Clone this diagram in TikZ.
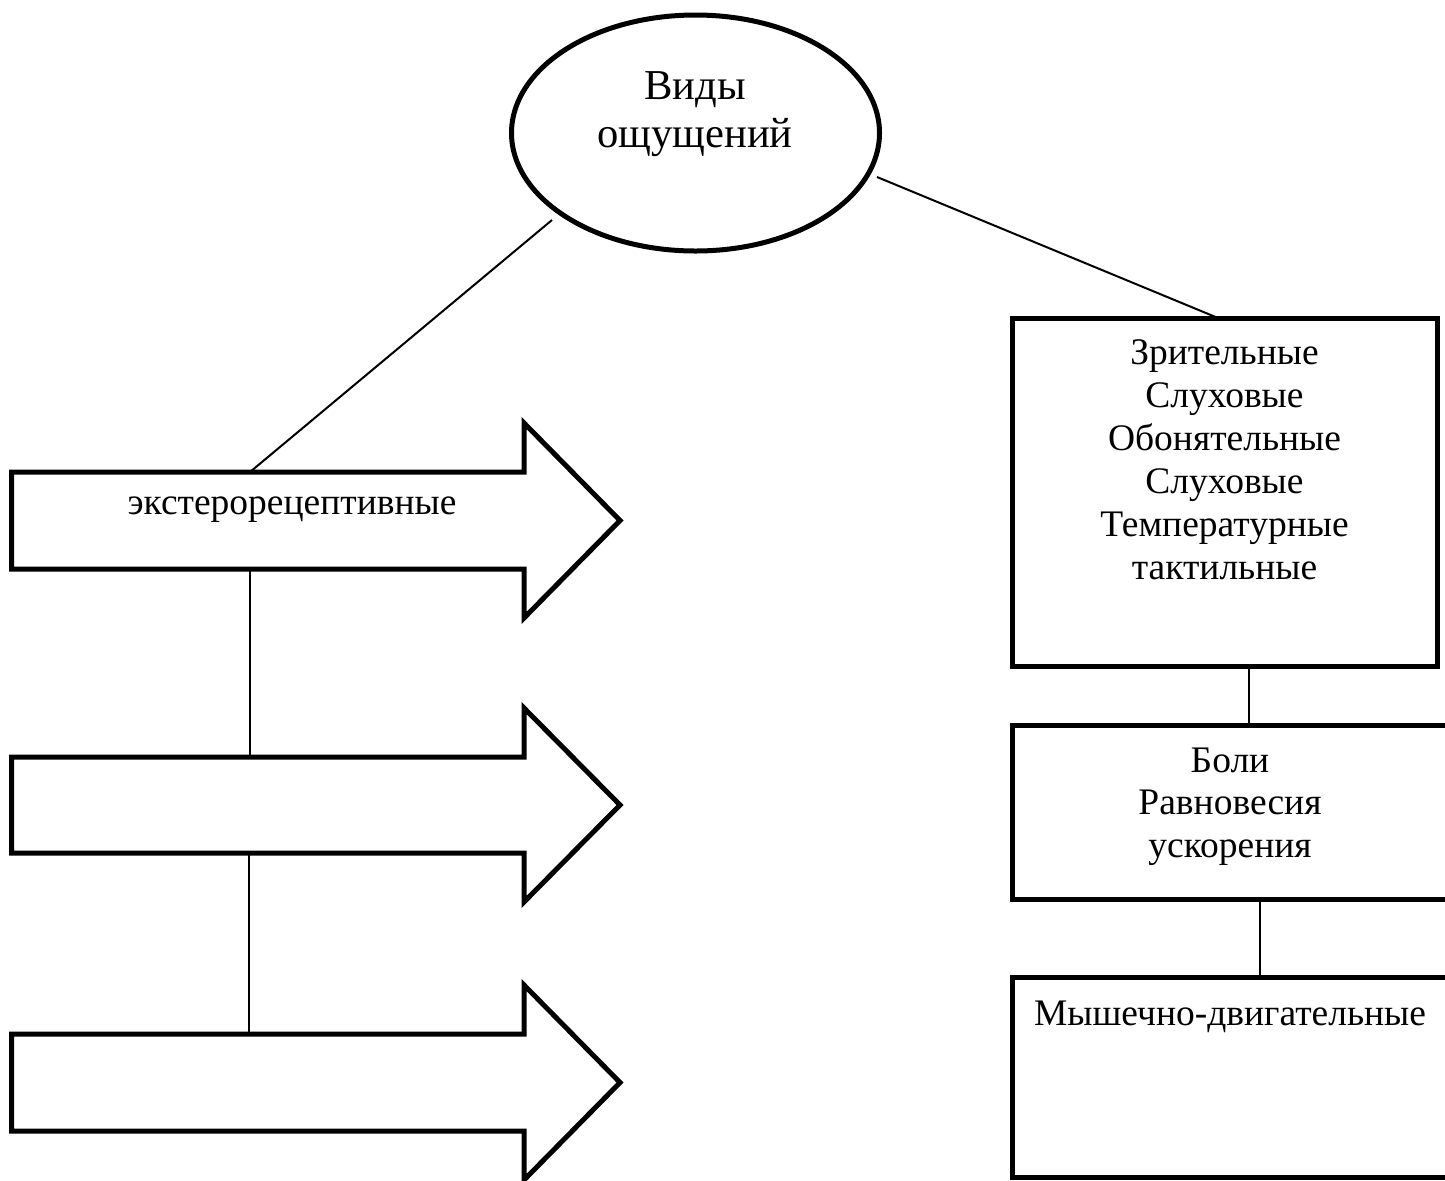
\documentclass[tikz,border=0pt]{standalone}
\usepackage{fontspec}
\setmainfont{Liberation Serif}
\usetikzlibrary{shapes.geometric}
\begin{document}
\begin{tikzpicture}[x=0.5pt,y=-0.5pt,
  thick border/.style={line width=2.5pt,line join=miter},
  thin link/.style={line width=1pt},
  lbl/.style={inner sep=0pt,anchor=base,align=center,font=\fontsize{18.75pt}{21.5pt}\selectfont},
  ovalbox/.style={ellipse,draw,line width=2.5pt,minimum width=184pt,minimum height=118pt,inner sep=0pt}]
\useasboundingbox (0,0) rectangle (1445,1180);
\clip (0,0) rectangle (1445,1180);
\fill[white] (0,0) rectangle (1445,1180);

% central ellipse
\node[ovalbox] (E) at (695.5,133) {};
\node[lbl,font=\fontsize{21.3pt}{24pt}\selectfont] (Et) at (695,147) {Виды\\ощущений};

% left arrows
\draw[thick border] (11.5,472) -- (524,472) -- (524,423) -- (620,520.5) -- (524,618) -- (524,569) -- (11.5,569) -- cycle;
\draw[thick border] (11.5,757) -- (524,757) -- (524,708) -- (620,805) -- (524,902) -- (524,853) -- (11.5,853) -- cycle;
\draw[thick border] (11.5,1034) -- (524,1034) -- (524,985) -- (620,1082.5) -- (524,1180) -- (524,1131) -- (11.5,1131) -- cycle;
\node[lbl] (A1t) at (292,514) {экстерорецептивные};

% right boxes
\draw[thick border] (1012,318) rectangle (1437,666);
\draw[thick border] (1012,725) rectangle (1452,899);
\draw[thick border] (1012,977) rectangle (1452,1177);
\node[lbl] (B1t) at (1224.5,579.5) {Зрительные\\Слуховые\\Обонятельные\\Слуховые\\Температурные\\тактильные};
\node[lbl,font=\fontsize{18.75pt}{21.25pt}\selectfont] (B2t) at (1230,857) {Боли\\Равновесия\\ускорения};
\node[lbl] (B3t) at (1230,1025) {Мышечно-двигательные};

% connector end points
\coordinate (eL) at (552,220);
\coordinate (eR) at (877,177);
\coordinate (a1top) at (250,472);
\coordinate (a1bot) at (250,569);
\coordinate (a2top) at (250,757);
\coordinate (a2bot) at (249,853);
\coordinate (a3top) at (249,1034);
\coordinate (b1top) at (1218,318);
\coordinate (b1bot) at (1249,666);
\coordinate (b2top) at (1249,725);
\coordinate (b2bot) at (1260,899);
\coordinate (b3top) at (1260,977);

\draw[thin link] (eL) -- (a1top);
\draw[thin link] (eR) -- (b1top);
\draw[thin link] (a1bot) -- (a2top);
\draw[thin link] (a2bot) -- (a3top);
\draw[thin link] (b1bot) -- (b2top);
\draw[thin link] (b2bot) -- (b3top);
\end{tikzpicture}
\end{document}
